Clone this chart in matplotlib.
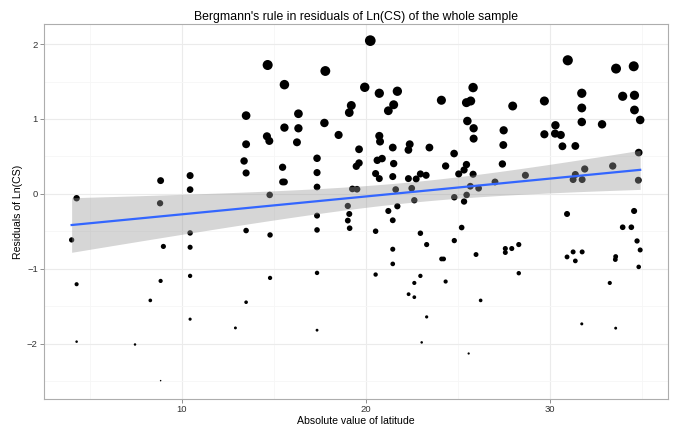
import numpy as np
import matplotlib
matplotlib.use("Agg")
import matplotlib.pyplot as plt
from matplotlib.ticker import MultipleLocator

latitude = [
    4.03, 4.30, 4.30, 4.30, 7.47, 8.30, 8.83, 8.86, 8.86, 8.86, 9.01,
    10.46, 10.46, 10.46, 10.46, 10.46, 10.46, 12.92, 13.39, 13.50, 13.50, 13.50, 13.50, 13.50,
    14.67, 14.63, 14.76, 14.78, 14.80, 14.80, 15.58, 15.58, 15.48, 15.48, 15.58,
    16.34, 16.34, 16.26, 17.80, 17.75, 17.35, 17.35, 17.35, 17.35, 17.35, 17.35, 17.35,
    18.52, 19.21, 19.10, 19.63, 19.63, 19.48, 19.27, 19.52, 19.02, 19.10, 19.02, 19.12,
    19.94, 20.24, 20.73, 20.73, 20.77, 20.62, 20.88, 20.53, 20.73, 20.53, 20.53,
    21.71, 21.51, 21.22, 21.46, 21.51, 21.46, 21.62, 21.71, 21.22, 21.46, 21.46, 21.46,
    22.38, 22.31, 22.31, 22.49, 22.63, 22.73, 22.96, 22.96, 22.96, 22.63, 22.32, 22.63,
    23.03, 23.27, 23.30, 23.30, 23.45, 24.10, 24.33, 24.33, 24.11, 24.22,
    24.79, 24.80, 24.80, 25.04, 25.20, 25.33, 25.33, 25.46, 25.47, 25.46, 25.69, 25.82,
    25.51, 25.85, 25.85, 25.82, 25.67, 25.58, 25.98, 26.12, 26.23,
    27.01, 27.41, 27.46, 27.48, 27.57, 27.57, 27.92, 27.97, 28.30, 28.30, 28.66,
    29.69, 29.69, 30.29, 30.27, 30.58, 30.67, 30.96, 30.92, 30.92,
    31.25, 31.25, 31.37, 31.37, 31.37, 31.72, 31.72, 31.72, 31.74, 31.88, 31.74, 31.72,
    32.82, 33.24, 33.40, 33.58, 33.56, 33.54, 33.56, 33.94, 33.94, 34.41,
    34.54, 34.58, 34.58, 34.56, 34.72, 34.81, 34.79, 34.81, 34.89, 34.89,
]
residual = [
    -0.613, -0.057, -1.204, -1.970, -2.008, -1.420, -0.124, 0.178, -1.160, -2.490, -0.700,
    0.245, 0.058, -0.520, -0.711, -1.093, -1.670, -1.787, 0.440, 1.045, 0.663, 0.280, -0.488, -1.444,
    1.720, 0.769, 0.707, -0.013, -0.547, -1.120, 1.458, 0.885, 0.356, 0.160, 0.160,
    1.070, 0.876, 0.689, 1.640, 0.947, 0.476, 0.285, 0.093, -0.289, -0.480, -1.053, -1.817,
    0.787, 1.180, 1.085, 0.596, 0.413, 0.369, 0.067, 0.063, -0.160, -0.267, -0.355, -0.457,
    1.423, 2.045, 1.343, 0.774, 0.699, 0.449, 0.472, 0.272, 0.205, -0.497, -1.075,
    1.370, 1.190, 1.110, 0.619, 0.405, 0.232, 0.059, -0.164, -0.227, -0.351, -0.737, -0.933,
    0.663, 0.587, 0.205, 0.076, -0.084, 0.200, 0.267, -0.524, -1.093, -1.187, -1.337, -1.377,
    -1.980, 0.249, -0.675, -1.640, 0.619, 1.250, 0.373, -1.168, -0.867, -0.867,
    0.539, -0.044, -0.622, 0.267, -0.448, 0.320, -0.101, 0.392, -0.013, 1.218, 1.240, 1.419,
    0.973, 0.876, 0.738, 0.263, 0.103, -2.128, -0.808, 0.076, -1.420,
    0.160, 0.400, 0.653, 0.849, -0.728, -0.781, -0.728, 1.173, -0.675, -1.057, 0.249,
    1.240, 0.796, 0.916, 0.805, 0.787, 0.636, 1.783, -0.267, -0.840,
    0.192, -0.773, 0.640, 0.259, -0.893, 1.343, 1.147, 0.960, 0.192, 0.333, -0.773, -1.733,
    0.929, -1.187, 0.373, 1.672, -0.835, -0.875, -1.790, 1.303, -0.444, -0.444,
    1.703, 1.316, 1.120, -0.227, -0.627, 0.552, 0.183, -0.973, 0.987, -0.747,
]

title = "Bergmann's rule in residuals of Ln(CS) of the whole sample"
xlabel = "Absolute value of latitude"
ylabel = "Residuals of Ln(CS)"
xticks = [10, 20, 30]
yticks = [-2, -1, 0, 1, 2]

x = np.array(latitude)
y = np.array(residual)

plt.rcParams['font.family'] = ['Liberation Sans', 'DejaVu Sans']

fig = plt.figure(figsize=(6.78, 4.26), dpi=100)
ax = fig.add_axes([44/678, 1-399/426, 624/678, 375/426])

# point sizes: linear in diameter with residual (as in old ggplot scale_size)
vmin, vmax = y.min(), y.max()
d_px = 1.5 + 9.2 * (y - vmin) / (vmax - vmin)
s = (d_px * 0.72) ** 2
ax.scatter(x, y, s=s, c='black', linewidths=0, zorder=3)

# linear fit with 95% confidence band
n = len(x)
b1, b0 = np.polyfit(x, y, 1)
xs = np.linspace(x.min(), x.max(), 200)
yhat = b0 + b1 * xs
res = y - (b0 + b1 * x)
sigma = np.sqrt(np.sum(res ** 2) / (n - 2))
sxx = np.sum((x - x.mean()) ** 2)
se = sigma * np.sqrt(1.0 / n + (xs - x.mean()) ** 2 / sxx)
z = 1.959964
df = n - 2
tq = z + (z**3 + z) / (4 * df) + (5 * z**5 + 16 * z**3 + 3 * z) / (96 * df**2)
ax.fill_between(xs, yhat - tq * se, yhat + tq * se, color='#999999', alpha=0.4,
                linewidth=0, zorder=4)
ax.plot(xs, yhat, color='#3366FF', linewidth=1.6, zorder=5)

ax.set_xlim(2.53, 36.4)
ax.set_ylim(-2.735, 2.267)
ax.set_xticks(xticks)
ax.set_yticks(yticks)
ax.xaxis.set_minor_locator(MultipleLocator(5))
ax.yaxis.set_minor_locator(MultipleLocator(0.5))
ax.grid(True, which='major', color='#EBEBEB', linewidth=0.8, zorder=0)
ax.grid(True, which='minor', color='#F6F6F6', linewidth=0.6, zorder=0)
ax.set_axisbelow(True)
ax.tick_params(which='minor', length=0)
ax.tick_params(which='major', length=3, width=0.6, color='#7F7F7F',
               labelsize=6.8, labelcolor='#333333', pad=1.5)
for sp in ax.spines.values():
    sp.set_color('#ADADAD')
    sp.set_linewidth(0.8)

ax.set_title(title, fontsize=8.85, color='black', pad=3)
ax.set_xlabel(xlabel, fontsize=7.6, labelpad=1)
ax.set_ylabel(ylabel, fontsize=7.6, labelpad=3)

fig.savefig("out.png", dpi=100)
